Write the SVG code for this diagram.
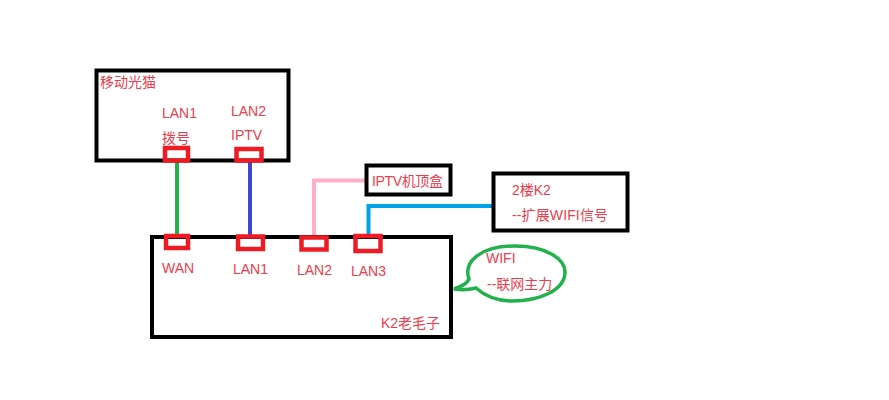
<svg xmlns="http://www.w3.org/2000/svg" width="889" height="400" viewBox="0 0 889 400">
<style>
.box{fill:none;stroke:#000;stroke-width:4}
.port{fill:none;stroke:#ed1c24;stroke-width:4.500}
.wire{fill:none;stroke-width:4}
text{font-family:"Liberation Sans","Noto Sans CJK SC",sans-serif;font-size:14px;fill:#ed3c4c}
</style>
<rect width="889" height="400" fill="#fff"/>
<g id="connectors">
<path class="wire" stroke="#22b14c" d="M177 160V236"/>
<path class="wire" stroke="#3f48cc" d="M250 160V236"/>
<path class="wire" stroke="#ffaec9" d="M314 237V180.500H366"/>
<path class="wire" stroke="#00a2e8" d="M368.500 236V206H493"/>
</g>
<g id="modem">
<rect class="box" x="96.500" y="70.500" width="192" height="90"/>
<text x="100" y="87">移动光猫</text>
<text x="162" y="118">LAN1</text>
<text x="162" y="143">拨号</text>
<text x="231" y="116">LAN2</text>
<text x="231" y="140">IPTV</text>
<rect class="port" x="165" y="148" width="23" height="12.500"/>
<rect class="port" x="236.500" y="149" width="25" height="11.500"/>
</g>
<g id="k2-main">
<rect class="box" x="152" y="237" width="299" height="100"/>
<rect class="port" x="166" y="236" width="22" height="12"/>
<rect class="port" x="238" y="236.500" width="25" height="12.500"/>
<rect class="port" x="301.500" y="237.500" width="25" height="12"/>
<rect class="port" x="355.500" y="236" width="25" height="15"/>
<text x="162" y="273">WAN</text>
<text x="233" y="274">LAN1</text>
<text x="297" y="275">LAN2</text>
<text x="351" y="276">LAN3</text>
<text x="381" y="328">K2老毛子</text>
</g>
<g id="iptv-box">
<rect class="box" x="366.500" y="165.500" width="84" height="29"/>
<text x="372" y="186" textLength="71">IPTV机顶盒</text>
</g>
<g id="k2-floor2">
<rect class="box" x="493.500" y="173.500" width="134" height="57"/>
<text x="512" y="195">2楼K2</text>
<text x="512" y="220" textLength="96">--扩展WIFI信号</text>
</g>
<g id="wifi-bubble">
<path d="M454 289C460 287 467 284 469 279C463 262 480 246 515 246C548 246 565 260 565 272C565 290 540 301 512 301C497 301 485 296 476 288C468 290 460 290 454 289Z" fill="none" stroke="#22b14c" stroke-width="3.500"/>
<text x="486" y="263">WIFI</text>
<text x="487" y="289">--联网主力</text>
</g>
</svg>
